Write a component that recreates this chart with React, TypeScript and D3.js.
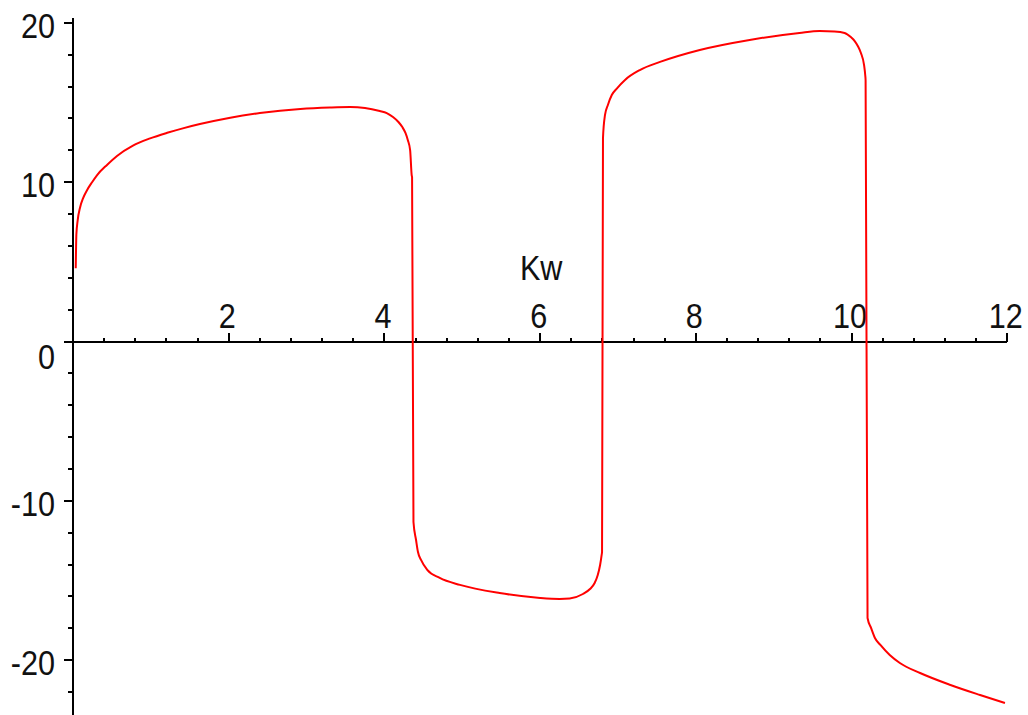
import React from "react";
import * as d3 from "d3";

// Sampled response curve (Kw on the horizontal axis)
const kwValues = [
  0.035, 0.039, 0.043, 0.06, 0.09, 0.13, 0.18, 0.245, 0.31, 0.44, 0.565, 0.77, 0.99, 1.21, 1.41, 1.63,
  2.02, 2.4, 2.92, 3.3, 3.56, 3.75, 3.94, 4.03, 4.11, 4.18, 4.23, 4.27, 4.3, 4.33, 4.35, 4.355,
  4.373, 4.406, 4.43, 4.47, 4.55, 4.71, 4.97, 5.48, 6.0, 6.25, 6.38, 6.55, 6.64, 6.7, 6.74, 6.77, 6.79, 6.795,
  6.807, 6.833, 6.87, 6.92, 6.99, 7.09, 7.28, 7.54, 8.05, 8.69, 9.33, 9.59, 9.78, 9.91, 9.99, 10.04, 10.08,
  10.12, 10.16, 10.175, 10.18,
  10.205, 10.25, 10.3, 10.37, 10.49, 10.62, 10.88, 11.27, 11.65, 11.97,
];
const responseValues = [
  4.6, 5.8, 6.7, 7.6, 8.4, 9.0, 9.5, 10.0, 10.45, 11.1, 11.65, 12.3, 12.75, 13.1, 13.38, 13.65,
  14.05, 14.34, 14.6, 14.69, 14.72, 14.66, 14.47, 14.34, 14.09, 13.78, 13.46, 13.09, 12.65, 12.02, 10.45, 10.3,
  -11.33, -12.46, -13.2, -13.71, -14.34, -14.84, -15.28, -15.79, -16.1, -16.16, -16.13, -15.85, -15.54, -15.16, -14.66, -14.03, -13.4, -13.2,
  12.77, 14.22, 14.85, 15.47, 15.91, 16.42, 17.04, 17.55, 18.3, 18.93, 19.37, 19.49, 19.46, 19.37, 19.11, 18.86, 18.55,
  18.11, 17.36, 16.73, 16.4,
  -17.36, -17.98, -18.61, -19.05, -19.68, -20.18, -20.81, -21.56, -22.19, -22.69,
];

const xTickValues = [2, 4, 6, 8, 10, 12];
const xTickLabels = ["2", "4", "6", "8", "10", "12"];
const yTickValues = [20, 10, 0, -10, -20];
const yTickLabels = ["20", "10", "0", "-10", "-20"];
const xMinorStep = 0.4;
const yMinorStep = 2;
const xAxisTitle = "Kw";

const W = 1028;
const H = 715;
const FONT = "'Liberation Sans', Arial, sans-serif";

export default function App() {
  const x = d3.scaleLinear().domain([0, 12]).range([73, 1007.3]);
  const y = d3.scaleLinear().domain([20, -20]).range([22.9, 660.1]);

  const x0 = x(0);
  const y0 = y(0);

  const xMinor = d3
    .range(1, 31)
    .map((i) => +(i * xMinorStep).toFixed(2))
    .filter((v) => !xTickValues.includes(v));
  const yMinor = d3
    .range(-22, 21, yMinorStep)
    .filter((v) => !yTickValues.includes(v));

  const pts: [number, number][] = kwValues.map((k, i) => [k, responseValues[i]]);
  const line = d3
    .line<[number, number]>()
    .x((d) => x(d[0]))
    .y((d) => y(d[1]))
    .curve(d3.curveMonotoneX);

  const label = (
    text: string,
    tx: number,
    ty: number,
    anchor: "start" | "middle" | "end",
    key?: string
  ) => (
    <text
      key={key}
      transform={`translate(${tx},${ty}) scale(1,1.14)`}
      textAnchor={anchor}
      fontFamily={FONT}
      fontSize={30.6}
      fill="#111"
    >
      {text}
    </text>
  );

  return (
    <svg
      width={W}
      height={H}
      style={{ position: "absolute", left: 0, top: 0, background: "#fff" }}
    >
      <rect width={W} height={H} fill="#fff" />
      <g stroke="#000" strokeWidth={2} shapeRendering="crispEdges">
        {/* x axis */}
        <line x1={x0} x2={x(12)} y1={y0} y2={y0} />
        {xTickValues.map((v) => (
          <line key={`xM${v}`} x1={x(v)} x2={x(v)} y1={y0} y2={y0 - 9} />
        ))}
        {xMinor.map((v) => (
          <line key={`xm${v}`} x1={x(v)} x2={x(v)} y1={y0} y2={y0 - 4} />
        ))}
        {/* y axis */}
        <line x1={x0} x2={x0} y1={y(20.3)} y2={H} />
        {yTickValues.map((v) => (
          <line key={`yM${v}`} x1={x0} x2={x0 - 9} y1={y(v)} y2={y(v)} />
        ))}
        {yMinor.map((v) => (
          <line key={`ym${v}`} x1={x0} x2={x0 - 5} y1={y(v)} y2={y(v)} />
        ))}
      </g>

      {xTickValues.map((v, i) => label(xTickLabels[i], x(v) - 1.5, y0 - 13.5, "middle", `xl${v}`))}
      {yTickValues.map((v, i) =>
        label(yTickLabels[i], 55, v === 0 ? y0 + 27 : y(v) + 15, "end", `yl${v}`)
      )}
      {label(xAxisTitle, x(6) + 1, 280, "middle", "title")}

      <path d={line(pts) ?? ""} fill="none" stroke="#ff0000" strokeWidth={2} />
    </svg>
  );
}
